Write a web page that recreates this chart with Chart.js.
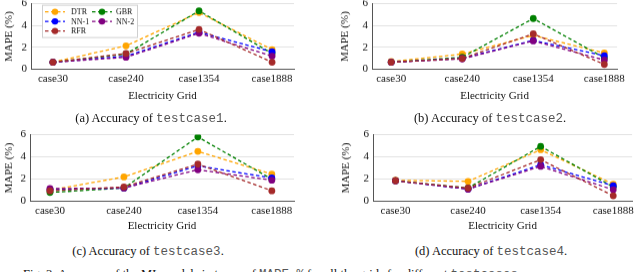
<!DOCTYPE html>
<html>
<head>
<meta charset="utf-8">
<script src="https://cdn.jsdelivr.net/npm/chart.js@4.4.0/dist/chart.umd.min.js"></script>
<style>
  body { margin: 0; background: #fff; width: 640px; height: 272px; overflow: hidden; position: relative; font-family: "Liberation Serif", serif; }
  .panel { position: absolute; }
  .cap { position: absolute; font-size: 12.5px; color: #111; white-space: nowrap; transform: translateX(-50%); line-height: 14px; }
  .tt { font-family: "Liberation Mono", monospace; color: #555; }
  .fig { position: absolute; left: 23px; top: 268px; font-size: 12.5px; line-height: 13px; white-space: nowrap; color: #111; }
</style>
</head>
<body>
<div class="panel" id="p1" style="left:0px;top:0px;width:298px;height:108px"><canvas id="tc1"></canvas></div>
<div class="panel" id="p2" style="left:336px;top:0px;width:292px;height:108px"><canvas id="tc2"></canvas></div>
<div class="panel" id="p3" style="left:0px;top:130px;width:298px;height:108px"><canvas id="tc3"></canvas></div>
<div class="panel" id="p4" style="left:337px;top:130px;width:300px;height:108px"><canvas id="tc4"></canvas></div>

<div class="cap" style="left:151px;top:111px">(a) Accuracy of <span class="tt">testcase1</span>.</div>
<div class="cap" style="left:490px;top:111px">(b) Accuracy of <span class="tt">testcase2</span>.</div>
<div class="cap" style="left:148px;top:244px">(c) Accuracy of <span class="tt">testcase3</span>.</div>
<div class="cap" style="left:491px;top:244px">(d) Accuracy of <span class="tt">testcase4</span>.</div>
<div class="fig">Fig. 3: Accuracy of the ML models in terms of <span class="tt">MAPE %</span> for all the grids for different <span class="tt">testcases</span>.</div>

<script>
// electricity grids on the x axis
const grids = ['case30', 'case240', 'case1354', 'case1888'];
const models = ['DTR', 'GBR', 'NN-1', 'NN-2', 'RFR'];
const modelColors = ['#ffa500', '#008000', '#0000ff', '#800080', '#a52a2a'];

// MAPE (%) per model, testcase1
const tc1DTR = [0.65, 2.15, 5.2, 1.8];
const tc1GBR = [0.65, 1.4, 5.35, 1.45];
const tc1NN1 = [0.65, 1.2, 3.4, 1.6];
const tc1NN2 = [0.65, 1.1, 3.3, 1.2];
const tc1RFR = [0.65, 1.45, 3.65, 0.65];

// testcase2
const tc2DTR = [0.7, 1.4, 3.1, 1.5];
const tc2GBR = [0.65, 1.1, 4.65, 1.05];
const tc2NN1 = [0.65, 1.0, 2.65, 1.25];
const tc2NN2 = [0.65, 0.95, 2.6, 0.85];
const tc2RFR = [0.65, 1.0, 3.25, 0.45];

// testcase3
const tc3DTR = [1.0, 2.2, 4.5, 2.45];
const tc3GBR = [0.8, 1.2, 5.8, 2.0];
const tc3NN1 = [1.05, 1.2, 3.2, 2.1];
const tc3NN2 = [1.15, 1.2, 2.85, 1.9];
const tc3RFR = [0.95, 1.3, 3.35, 0.95];

// testcase4
const tc4DTR = [1.9, 1.8, 4.65, 1.55];
const tc4GBR = [1.85, 1.2, 4.95, 1.3];
const tc4NN1 = [1.85, 1.1, 3.3, 1.4];
const tc4NN2 = [1.85, 1.1, 3.15, 1.05];
const tc4RFR = [1.85, 1.2, 3.75, 0.5];

const yTicks = [0, 1, 2, 3, 4, 5, 6];

const SERIF = "'Liberation Serif', serif";

// legend drawn inside the plot area, two columns like pgfplots
const insideLegend = {
    id: 'insideLegend',
    afterDatasetsDraw(chart, args, opts) {
        if (!opts.show) return;
        const ctx = chart.ctx;
        const bx = chart.chartArea.left + 11;
        const by = chart.chartArea.top + 1;
        ctx.save();
        ctx.fillStyle = '#fff';
        ctx.strokeStyle = '#cfcfcf';
        ctx.lineWidth = 1;
        ctx.fillRect(bx, by, 95, 32);
        ctx.strokeRect(bx + 0.5, by + 0.5, 95, 32);
        ctx.font = '8px ' + SERIF;
        ctx.textBaseline = 'middle';
        const rows = [7, 16.5, 26];
        chart.data.datasets.forEach((ds, k) => {
            const row = Math.floor(k / 2), col = k % 2;
            const mx = bx + (col ? 60 : 13);
            const tx = bx + (col ? 74 : 29);
            const y = by + rows[row];
            ctx.strokeStyle = ds.borderColor;
            ctx.lineWidth = 1.3;
            ctx.setLineDash([3.5, 2.5]);
            ctx.beginPath();
            ctx.moveTo(mx - 10, y);
            ctx.lineTo(mx + 10, y);
            ctx.stroke();
            ctx.setLineDash([]);
            ctx.fillStyle = ds.borderColor;
            ctx.beginPath();
            ctx.arc(mx, y, 3.2, 0, Math.PI * 2);
            ctx.fill();
            ctx.fillStyle = '#111';
            ctx.fillText(ds.label, tx, y + 0.5);
        });
        ctx.restore();
    }
};

function makeChart(id, series, xmin, xmax, yAxisWidth, xAxisHeight, showLegend) {
    const ctx = document.getElementById(id).getContext('2d');
    const datasets = series.map((vals, i) => ({
        label: models[i],
        data: vals.map((v, j) => ({ x: j, y: v })),
        borderColor: modelColors[i],
        backgroundColor: modelColors[i],
        borderWidth: 1.3,
        borderDash: [3.5, 2.5],
        pointRadius: 3.4,
        pointBorderWidth: 0,
        tension: 0,
        order: series.length - i
    }));
    return new Chart(ctx, {
        type: 'line',
        data: { datasets: datasets },
        plugins: [insideLegend],
        options: {
            animation: false,
            responsive: true,
            maintainAspectRatio: false,
            layout: { padding: { top: 0, right: 2, left: 0, bottom: 0 } },
            plugins: {
                legend: { display: false },
                tooltip: { enabled: false },
                insideLegend: { show: showLegend }
            },
            scales: {
                x: {
                    type: 'linear',
                    min: xmin,
                    max: xmax,
                    afterBuildTicks: (axis) => { axis.ticks = grids.map((g, j) => ({ value: j })); },
                    afterFit: (axis) => { axis.height = xAxisHeight; },
                    ticks: {
                        callback: (v) => grids[v],
                        font: { family: SERIF, size: 11 },
                        color: '#111',
                        padding: 3,
                        maxRotation: 0,
                        autoSkip: false
                    },
                    grid: { display: false, drawTicks: false, tickLength: 0 },
                    border: { display: true, color: '#555', width: 1 },
                    title: {
                        display: true,
                        text: 'Electricity Grid',
                        font: { family: SERIF, size: 11 },
                        color: '#111',
                        padding: { top: 0, bottom: 0 }
                    }
                },
                y: {
                    min: 0,
                    max: 6,
                    afterBuildTicks: (axis) => { axis.ticks = yTicks.map(v => ({ value: v })); },
                    afterFit: (axis) => { axis.width = yAxisWidth; },
                    ticks: {
                        font: { family: SERIF, size: 11 },
                        color: '#111',
                        padding: 4
                    },
                    grid: { color: '#e2e2e2', lineWidth: 1, drawTicks: false },
                    border: { display: true, color: '#555', width: 1 },
                    title: {
                        display: true,
                        text: 'MAPE (%)',
                        font: { family: SERIF, size: 11 },
                        color: '#111',
                        padding: { top: 3, bottom: 0 }
                    }
                }
            }
        }
    });
}

// move the panel so the plot area sits where the reference puts it
function place(chart, divId, areaTop, areaBottom, xAxisHeight) {
    const div = document.getElementById(divId);
    const t0 = chart.chartArea.top;
    div.style.top = (areaTop - t0) + 'px';
    div.style.height = (t0 + (areaBottom - areaTop) + xAxisHeight) + 'px';
    chart.resize();
}

function drawAll() {
    const c1 = makeChart('tc1', [tc1DTR, tc1GBR, tc1NN1, tc1NN2, tc1RFR], -0.3, 3.3, 31, 33, true);
    const c2 = makeChart('tc2', [tc2DTR, tc2GBR, tc2NN1, tc2NN2, tc2RFR], -0.27, 3.18, 36, 33, false);
    const c3 = makeChart('tc3', [tc3DTR, tc3GBR, tc3NN1, tc3NN2, tc3RFR], -0.27, 3.3, 30, 31, false);
    const c4 = makeChart('tc4', [tc4DTR, tc4GBR, tc4NN1, tc4NN2, tc4RFR], -0.31, 3.26, 36, 31, false);
    place(c1, 'p1', 4, 69, 33);
    place(c2, 'p2', 4, 69, 33);
    place(c3, 'p3', 135, 201, 31);
    place(c4, 'p4', 135, 201, 31);
}

Promise.all([
    document.fonts.load("11px 'Liberation Serif'"),
    document.fonts.load("11px 'Liberation Mono'")
]).then(drawAll, drawAll);
</script>
</body>
</html>
